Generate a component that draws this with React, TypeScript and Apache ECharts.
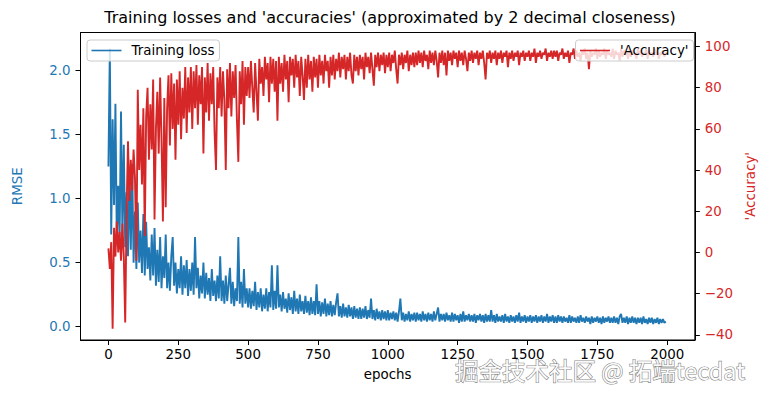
import React, { useEffect, useRef } from "react";
import * as echarts from "echarts";

// Epoch spacing between the sampled readings below (x positions of the points)
const EPOCH_STEP = 5;

// Training loss (RMSE), every 5 epochs, 0..1995
const lossValues: number[] = [
  1.25, 2.17, 0.72, 1.62, 0.95, 1.74, 0.66, 1.1, 0.7, 1.68, 0.72, 1.42, 0.62, 1.05, 0.55, 1.2, 0.6, 1.27, 0.5, 0.9,
  0.45, 0.97, 0.5, 0.75, 0.42, 0.88, 0.4, 0.82, 0.45, 0.62, 0.36, 0.72, 0.4, 0.77, 0.32, 0.6, 0.35, 0.7, 0.3, 0.55,
  0.38, 0.72, 0.3, 0.5, 0.28, 0.55, 0.7, 0.32, 0.5, 0.26, 0.45, 0.3, 0.55, 0.25, 0.48, 0.3, 0.52, 0.24, 0.45, 0.28,
  0.5, 0.25, 0.7, 0.3, 0.46, 0.22, 0.4, 0.26, 0.5, 0.22, 0.42, 0.25, 0.38, 0.2, 0.45, 0.24, 0.36, 0.2, 0.4, 0.22,
  0.55, 0.2, 0.36, 0.18, 0.4, 0.2, 0.33, 0.46, 0.18, 0.35, 0.16, 0.3, 0.2, 0.7, 0.18, 0.35, 0.15, 0.45, 0.18, 0.3,
  0.15, 0.3, 0.14, 0.28, 0.16, 0.35, 0.13, 0.27, 0.15, 0.3, 0.12, 0.25, 0.14, 0.3, 0.12, 0.27, 0.15, 0.48, 0.13, 0.28,
  0.14, 0.48, 0.15, 0.25, 0.12, 0.27, 0.14, 0.22, 0.11, 0.26, 0.13, 0.23, 0.1, 0.28, 0.12, 0.22, 0.1, 0.25, 0.12, 0.2,
  0.1, 0.24, 0.11, 0.2, 0.09, 0.23, 0.1, 0.2, 0.09, 0.33, 0.1, 0.2, 0.08, 0.19, 0.1, 0.22, 0.08, 0.18, 0.09, 0.2,
  0.08, 0.17, 0.09, 0.19, 0.26, 0.08, 0.16, 0.07, 0.18, 0.08, 0.15, 0.07, 0.17, 0.08, 0.15, 0.06, 0.16, 0.07, 0.14, 0.06,
  0.15, 0.06, 0.14, 0.07, 0.16, 0.06, 0.13, 0.07, 0.22, 0.06, 0.13, 0.05, 0.14, 0.06, 0.12, 0.05, 0.13, 0.06, 0.12, 0.05,
  0.13, 0.05, 0.11, 0.06, 0.12, 0.05, 0.11, 0.04, 0.12, 0.22, 0.05, 0.11, 0.04, 0.1, 0.05, 0.12, 0.04, 0.1, 0.05, 0.11,
  0.04, 0.11, 0.05, 0.1, 0.04, 0.12, 0.05, 0.1, 0.04, 0.11, 0.05, 0.1, 0.04, 0.12, 0.05, 0.1, 0.15, 0.04, 0.1, 0.05,
  0.1, 0.04, 0.11, 0.05, 0.09, 0.04, 0.11, 0.04, 0.1, 0.05, 0.09, 0.03, 0.1, 0.04, 0.12, 0.04, 0.09, 0.05, 0.1, 0.04,
  0.09, 0.04, 0.1, 0.03, 0.09, 0.05, 0.1, 0.04, 0.09, 0.03, 0.1, 0.04, 0.09, 0.04, 0.13, 0.04, 0.09, 0.03, 0.1, 0.04,
  0.08, 0.04, 0.09, 0.03, 0.1, 0.04, 0.08, 0.03, 0.09, 0.04, 0.08, 0.03, 0.09, 0.04, 0.11, 0.03, 0.08, 0.04, 0.09, 0.03,
  0.08, 0.04, 0.09, 0.03, 0.08, 0.04, 0.09, 0.03, 0.08, 0.04, 0.09, 0.03, 0.08, 0.04, 0.1, 0.03, 0.08, 0.04, 0.09, 0.03,
  0.08, 0.03, 0.09, 0.04, 0.08, 0.03, 0.08, 0.04, 0.07, 0.03, 0.09, 0.03, 0.08, 0.04, 0.07, 0.03, 0.08, 0.03, 0.09, 0.04,
  0.07, 0.03, 0.08, 0.04, 0.07, 0.02, 0.08, 0.03, 0.07, 0.04, 0.08, 0.03, 0.07, 0.02, 0.08, 0.03, 0.07, 0.04, 0.08, 0.03,
  0.07, 0.03, 0.08, 0.03, 0.07, 0.02, 0.08, 0.1, 0.03, 0.07, 0.03, 0.08, 0.02, 0.07, 0.03, 0.08, 0.03, 0.07, 0.02, 0.07,
  0.03, 0.07, 0.02, 0.08, 0.03, 0.06, 0.02, 0.07, 0.03, 0.07, 0.02, 0.06, 0.03, 0.07, 0.02, 0.06, 0.03, 0.06, 0.03, 0.04,
];

// 'Accuracy' (%), every 5 epochs, 0..1995
const accuracyValues: number[] = [
  2, -8, 5, -37, 12, -2, 15, 0, 10, -4, 14, -2, -34, 20, 54, 25, 45, 30, 50, 36,
  -4, 79, 40, 62, 33, 70, 8, 66, 80, 45, 72, 50, 84, 16, 60, 78, 48, 85, 55, 15,
  75, 22, 70, 86, 52, 87, 60, 82, 45, 84, 62, 88, 55, 80, 65, 90, 58, 85, 68, 90,
  60, 88, 70, 91, 62, 86, 72, 90, 48, 85, 68, 92, 64, 87, 72, 90, 58, 40, 85, 70,
  90, 66, 88, 74, 40, 89, 70, 92, 66, 88, 75, 91, 64, 44, 88, 72, 93, 62, 90, 76,
  90, 75, 93, 80, 68, 92, 78, 64, 94, 82, 90, 76, 95, 84, 92, 73, 95, 82, 94, 78,
  93, 64, 95, 82, 92, 78, 96, 84, 93, 73, 95, 86, 94, 80, 96, 85, 93, 76, 95, 86,
  74, 94, 80, 96, 84, 93, 78, 95, 85, 94, 80, 96, 86, 93, 82, 96, 88, 93, 80, 95,
  86, 96, 84, 94, 88, 97, 85, 95, 89, 96, 84, 95, 88, 97, 86, 82, 96, 88, 95, 86,
  96, 89, 95, 84, 97, 90, 95, 87, 97, 89, 81, 96, 90, 97, 88, 96, 91, 97, 87, 96,
  90, 97, 88, 96, 92, 98, 89, 82, 96, 91, 97, 89, 96, 92, 98, 88, 96, 91, 97, 90,
  97, 91, 98, 92, 97, 90, 98, 93, 96, 89, 98, 92, 97, 91, 98, 93, 85, 97, 92, 98,
  91, 97, 86, 98, 93, 97, 91, 98, 94, 97, 90, 98, 93, 97, 91, 98, 94, 88, 97, 93,
  98, 92, 97, 94, 98, 91, 97, 94, 98, 92, 84, 97, 94, 98, 92, 97, 94, 98, 91, 97,
  94, 98, 92, 97, 95, 98, 90, 97, 94, 98, 93, 97, 95, 98, 91, 97, 95, 98, 93, 97,
  95, 98, 93, 97, 95, 99, 92, 97, 95, 98, 94, 97, 96, 99, 93, 97, 95, 98, 94, 98,
  95, 98, 93, 97, 96, 99, 94, 97, 95, 98, 92, 97, 96, 99, 94, 98, 95, 97, 93, 98,
  96, 99, 94, 97, 89, 98, 95, 97, 96, 99, 94, 98, 95, 97, 96, 99, 94, 98, 96, 97,
  95, 99, 94, 98, 96, 97, 93, 99, 95, 98, 96, 97, 94, 99, 95, 98, 96, 97, 94, 99,
  96, 98, 95, 97, 96, 99, 94, 98, 96, 97, 95, 99, 96, 98, 94, 97, 96, 98, 95, 97,
];

// Tick labels
const xTicks = [0, 250, 500, 750, 1000, 1250, 1500, 1750, 2000];
const lossTicks = [0, 0.5, 1.0, 1.5, 2.0];
const accTicks = [-40, -20, 0, 20, 40, 60, 80, 100];

const TITLE = "Training losses and 'accuracies' (approximated by 2 decimal closeness)";
const LOSS_NAME = "Training loss";
const ACC_NAME = "'Accuracy'";

const BLUE = "#1f77b4";
const RED = "#d62728";
const FONT = "DejaVu Sans";
const FS = 13.4;

export default function App() {
  const ref = useRef<HTMLDivElement>(null);

  useEffect(() => {
    if (!ref.current) return;
    const chart = echarts.init(ref.current, undefined, { renderer: "svg" });

    const lossData = lossValues.map((v, i) => [i * EPOCH_STEP, v]);
    const accData = accuracyValues.map((v, i) => [i * EPOCH_STEP, v]);

    const legendCommon = {
      orient: "horizontal" as const,
      top: 40,
      padding: [4, 5, 4, 4.5],
      itemWidth: 30,
      itemHeight: 1.6,
      icon: "rect",
      borderColor: "#cccccc",
      borderWidth: 1,
      borderRadius: 3,
      backgroundColor: "rgba(255,255,255,0.8)",
      selectedMode: false,
      textStyle: { fontFamily: FONT, fontSize: FS, color: "#000", padding: [0, 0, 0, 5] },
    };

    const axisLineStyle = { show: true, onZero: false, lineStyle: { color: "#000", width: 1 } };

    chart.setOption({
      animation: false,
      textStyle: { fontFamily: FONT },
      grid: {
        left: 80.5,
        right: 65,
        top: 32.5,
        bottom: 53,
        show: true,
        borderColor: "#000",
        borderWidth: 1,
        backgroundColor: "transparent",
      },
      legend: [
        { ...legendCommon, left: 87, data: [LOSS_NAME] },
        { ...legendCommon, right: 71.5, data: [ACC_NAME] },
      ],
      xAxis: {
        type: "value",
        min: -100,
        max: 2099,
        name: "epochs",
        nameLocation: "middle",
        nameGap: 28,
        nameTextStyle: { fontFamily: FONT, fontSize: FS, color: "#000" },
        axisLine: axisLineStyle,
        axisTick: { show: true, length: 5, customValues: xTicks, lineStyle: { color: "#000", width: 1 } },
        axisLabel: {
          customValues: xTicks,
          margin: 8,
          fontFamily: FONT,
          fontSize: FS,
          color: "#000",
          formatter: (v: number) => String(v),
        },
        splitLine: { show: false },
      },
      yAxis: [
        {
          type: "value",
          min: -0.104,
          max: 2.297,
          position: "left",
          name: "RMSE",
          nameLocation: "middle",
          nameGap: 57,
          nameTextStyle: { fontFamily: FONT, fontSize: FS, color: BLUE },
          axisLine: axisLineStyle,
          axisTick: { show: true, length: 5, customValues: lossTicks, lineStyle: { color: "#000", width: 1 } },
          axisLabel: {
            customValues: lossTicks,
            margin: 10,
            fontFamily: FONT,
            fontSize: FS,
            color: BLUE,
            formatter: (v: number) => v.toFixed(1),
          },
          splitLine: { show: false },
        },
        {
          type: "value",
          min: -42.5,
          max: 106.8,
          position: "right",
          alignTicks: false,
          name: ACC_NAME,
          nameLocation: "middle",
          nameGap: 44,
          nameTextStyle: { fontFamily: FONT, fontSize: FS, color: RED },
          axisLine: axisLineStyle,
          axisTick: { show: true, length: 5, customValues: accTicks, lineStyle: { color: "#000", width: 1 } },
          axisLabel: {
            customValues: accTicks,
            margin: 10,
            fontFamily: FONT,
            fontSize: FS,
            color: RED,
            formatter: (v: number) => (v < 0 ? "\u2212" + Math.abs(v) : String(v)),
          },
          splitLine: { show: false },
        },
      ],
      series: [
        {
          name: LOSS_NAME,
          type: "line",
          yAxisIndex: 0,
          data: lossData,
          symbol: "none",
          showSymbol: false,
          color: BLUE,
          lineStyle: { color: BLUE, width: 1.9 },
          silent: true,
        },
        {
          name: ACC_NAME,
          type: "line",
          yAxisIndex: 1,
          data: accData,
          symbol: "none",
          showSymbol: false,
          color: RED,
          lineStyle: { color: RED, width: 1.9 },
          silent: true,
        },
      ],
      graphic: [
        {
          type: "text",
          x: 390,
          y: 17,
          style: {
            text: TITLE,
            fontFamily: FONT,
            fontSize: 16,
            fill: "#000",
            textAlign: "center",
            textVerticalAlign: "middle",
          },
        },
        {
          type: "text",
          x: 455,
          y: 370,
          z: 100,
          style: {
            text: "掘金技术社区 @ 拓端tecdat",
            fontFamily: "Noto Sans CJK SC",
            fontSize: 23.5,
            fill: "rgba(255,255,255,0.95)",
            stroke: "rgba(80,80,80,0.7)",
            lineWidth: 1.2,
            textAlign: "left",
            textVerticalAlign: "middle",
          },
        },
      ],
    });

    return () => chart.dispose();
  }, []);

  return (
    <div
      ref={ref}
      style={{ position: "fixed", left: 0, top: 0, width: 765, height: 393, background: "#fff" }}
    />
  );
}
